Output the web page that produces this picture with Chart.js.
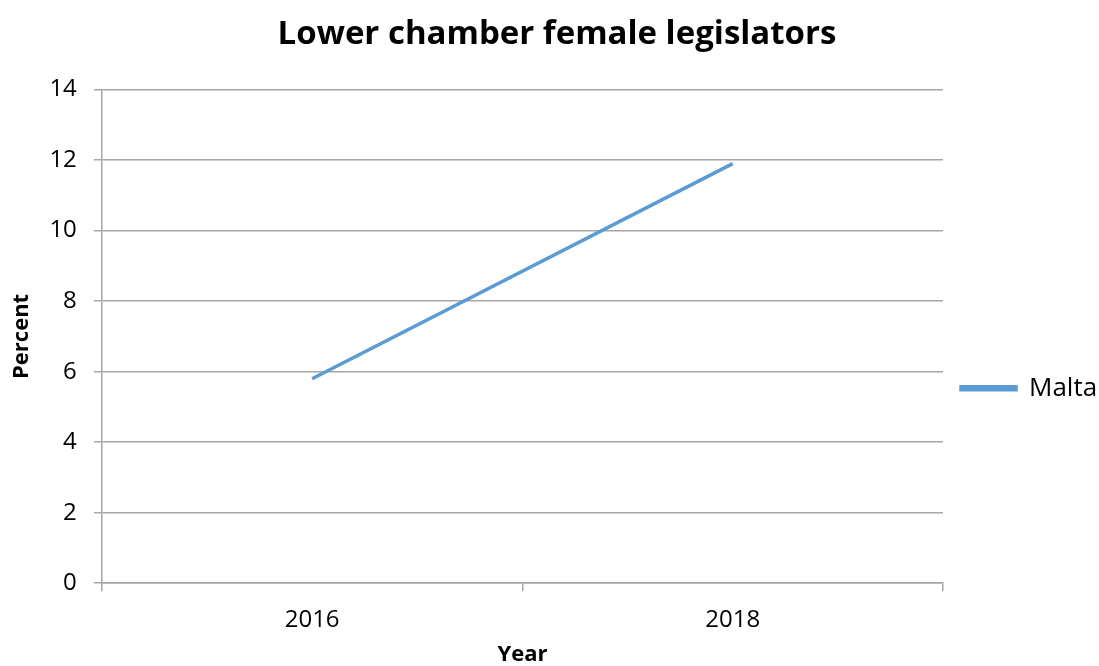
<!DOCTYPE html>
<html>
<head>
<meta charset="utf-8">
<script src="https://cdn.jsdelivr.net/npm/chart.js@4.4.0/dist/chart.umd.min.js"></script>
<style>
  html, body { margin: 0; padding: 0; background: #fff; overflow: hidden; }
  #wrap { width: 1099px; height: 666px; }
</style>
</head>
<body>
<div id="wrap"><canvas id="line-chart" width="1099" height="666"></canvas></div>
<script>
// chart data
var years = ["2016", "2018"];
var maltaValues = [5.8, 11.9];
var seriesName = "Malta";

var fontName = "'Open Sans', 'Noto Sans', sans-serif";
var blue = "#5b9bd5";
var gridGray = "#a6a6a6";

renderChart();

function renderChart(){
    new Chart(document.getElementById("line-chart"), {
        type: "line",
        data: {
            labels: years,
            datasets: [
                {
                    data: maltaValues,
                    label: seriesName,
                    borderColor: blue,
                    backgroundColor: blue,
                    borderWidth: 3.5,
                    pointRadius: 0,
                    fill: false,
                    tension: 0
                }
            ]
        },
        options: {
            responsive: false,
            animation: false,
            // left padding nudges the title a little right of the centre
            layout: { padding: { left: 15, right: 0, top: 0, bottom: 0 } },
            plugins: {
                title: {
                    display: true,
                    text: "Lower chamber female legislators",
                    color: "#000",
                    font: { family: fontName, size: 33, weight: "bold" },
                    padding: { top: 15, bottom: 35 }
                },
                legend: {
                    position: "right",
                    maxWidth: 156,
                    // empty title only pushes the legend item down a bit
                    title: { display: true, text: "", padding: 48 },
                    labels: {
                        boxWidth: 55,
                        boxHeight: 3,
                        padding: 18,
                        color: "#000",
                        font: { family: fontName, size: 26 }
                    }
                },
                tooltip: { enabled: false }
            },
            scales: {
                x: {
                    offset: true,
                    grid: {
                        offset: true,
                        drawOnChartArea: false,
                        drawTicks: true,
                        tickLength: 8,
                        color: gridGray,
                        lineWidth: 1.5
                    },
                    border: { color: gridGray, width: 1.5 },
                    ticks: {
                        color: "#000",
                        padding: 15,
                        font: { family: fontName, size: 24 }
                    },
                    title: {
                        display: true,
                        text: "Year",
                        color: "#000",
                        font: { family: fontName, size: 22, weight: "bold", lineHeight: 1 },
                        padding: { top: -6, bottom: 0 }
                    }
                },
                y: {
                    min: 0,
                    max: 14,
                    ticks: {
                        stepSize: 2,
                        color: "#000",
                        padding: 17,
                        font: { family: fontName, size: 24 }
                    },
                    grid: {
                        color: gridGray,
                        lineWidth: 1.5,
                        tickLength: 8
                    },
                    border: { color: gridGray, width: 1.5 },
                    title: {
                        display: true,
                        text: "Percent",
                        color: "#000",
                        font: { family: fontName, size: 22, weight: "bold" },
                        padding: { top: -6, bottom: -3 }
                    }
                }
            }
        }
    });
}
</script>
</body>
</html>
